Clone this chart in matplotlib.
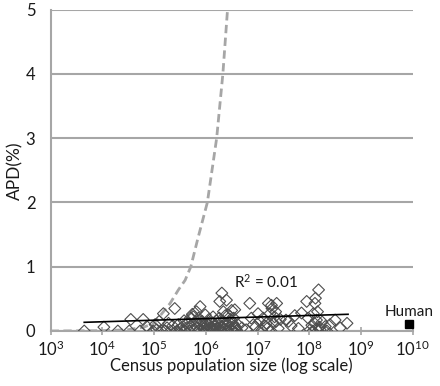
import numpy as np
import matplotlib.pyplot as plt

plt.rcParams['font.family'] = ['Lato', 'DejaVu Sans']
plt.rcParams['mathtext.fontset'] = 'custom'
plt.rcParams['mathtext.rm'] = 'Lato'
plt.rcParams['mathtext.it'] = 'Lato:italic'

# species: census size (log10) and APD (%)
log_pop = [
    3.65, 4.03, 4.30, 4.52, 4.55, 4.73, 4.79, 4.86, 4.98, 5.02,
    5.05, 5.10, 5.15, 5.18, 5.21, 5.25, 5.28, 5.32, 5.36, 5.40, 5.44, 5.47, 5.50, 5.53, 5.56, 5.58,
    5.60, 5.63, 5.65, 5.68, 5.70, 5.72, 5.74, 5.76, 5.78, 5.80, 5.82, 5.84, 5.86, 5.88, 5.89, 5.91,
    5.93, 5.95, 5.97, 5.99,
    6.00, 6.02, 6.04, 6.06, 6.08, 6.10, 6.12, 6.14, 6.16, 6.18, 6.20, 6.22, 6.24, 6.26, 6.27, 6.29,
    6.31, 6.32, 6.34, 6.36, 6.38, 6.40, 6.42, 6.44, 6.46, 6.48, 6.50, 6.52, 6.53, 6.55, 6.56, 6.58,
    6.60, 6.62,
    6.70, 6.78, 6.85, 6.88, 6.92, 6.96, 7.01, 7.04, 7.08, 7.11, 7.14, 7.17, 7.21, 7.24, 7.27, 7.28,
    7.31, 7.33, 7.35, 7.37, 7.40, 7.44,
    7.55, 7.60, 7.65, 7.72, 7.79, 7.85, 7.95, 7.98, 8.02, 8.05, 8.08, 8.10, 8.11, 8.12, 8.14, 8.16,
    8.18, 8.20, 8.25, 8.31, 8.34, 8.40, 8.50, 8.60, 8.73,
    5.87, 5.96, 6.01, 6.07, 6.11, 6.15, 6.19, 6.23, 6.28, 6.33, 6.37, 6.41, 6.45, 6.49, 6.54, 6.57,
    7.20, 7.26, 7.36, 8.07, 8.13, 8.21,
]
apd = [
    0.00, 0.06, 0.00, 0.00, 0.18, 0.00, 0.18, 0.07, 0.00, 0.10,
    0.02, 0.15, 0.00, 0.27, 0.00, 0.05, 0.12, 0.00, 0.08, 0.35, 0.00, 0.10, 0.03, 0.00, 0.07, 0.16,
    0.00, 0.05, 0.12, 0.00, 0.20, 0.08, 0.26, 0.22, 0.02, 0.14, 0.30, 0.05, 0.20, 0.10, 0.38, 0.00,
    0.15, 0.12, 0.06, 0.25,
    0.02, 0.00, 0.10, 0.18, 0.05, 0.13, 0.00, 0.22, 0.08, 0.03, 0.16, 0.11, 0.00, 0.20, 0.46, 0.07,
    0.59, 0.14, 0.30, 0.02, 0.24, 0.48, 0.10, 0.25, 0.05, 0.18, 0.32, 0.12, 0.00, 0.08, 0.33, 0.03,
    0.01, 0.10,
    0.05, 0.02, 0.43, 0.20, 0.10, 0.06, 0.27, 0.15, 0.01, 0.20, 0.08, 0.12, 0.43, 0.27, 0.40, 0.35,
    0.12, 0.22, 0.30, 0.43, 0.04, 0.18,
    0.17, 0.15, 0.08, 0.24, 0.04, 0.28, 0.46, 0.20, 0.02, 0.09, 0.27, 0.12, 0.43, 0.51, 0.17, 0.30,
    0.64, 0.06, 0.14, 0.07, 0.00, 0.10, 0.17, 0.05, 0.12,
    0.00, 0.03, 0.12, 0.00, 0.06, 0.00, 0.09, 0.04, 0.00, 0.06, 0.11, 0.00, 0.14, 0.02, 0.20, 0.06,
    0.05, 0.00, 0.15, 0.00, 0.03, 0.02,
]

# neutral expectation curve
curve_log_pop = [3.0, 4.0, 4.5, 4.8, 5.0, 5.18, 5.31, 5.47, 5.60, 5.71, 5.85, 6.03, 6.21, 6.33, 6.42]
curve_apd = [0.0, 0.005, 0.02, 0.06, 0.12, 0.30, 0.43, 0.64, 0.79, 1.0, 1.45, 2.0, 3.0, 4.0, 5.0]

# regression line end points
fit_log_pop = [3.65, 8.75]
fit_apd = [0.135, 0.26]

human_log_pop = 9.92
human_apd = 0.11

pop = 10 ** np.array(log_pop)
txt = '#1a1a1a'

fig = plt.figure(figsize=(4.4, 3.86), dpi=100)
ax = fig.add_axes([0.115, 0.1425, 0.823, 0.8325])
ax.set_xscale('log')
ax.set_xlim(1e3, 1e10)
ax.set_ylim(0, 5)

ax.yaxis.grid(True, color='#a6a6a6', lw=1.5)
ax.set_axisbelow(True)
for s in ['top', 'right']:
    ax.spines[s].set_visible(False)
for s in ['left', 'bottom']:
    ax.spines[s].set_color('#a6a6a6')
    ax.spines[s].set_linewidth(1.5)

ax.plot(10 ** np.array(curve_log_pop), curve_apd, color='#a6a6a6', lw=2,
        dashes=(3, 1.6), zorder=2)
ax.scatter(pop, apd, marker='D', s=36, facecolors='none', edgecolors='#4d4d4d',
           linewidths=0.8, zorder=3)
ax.plot(10 ** np.array(fit_log_pop), fit_apd, color='black', lw=1.2, zorder=4)
ax.plot([10 ** human_log_pop], [human_apd], marker='s', color='black', ms=5.5,
        clip_on=False, zorder=5)
ax.text(10 ** 9.94, 0.29, 'Human', ha='center', va='center', fontsize=11, color=txt)
ax.text(10 ** 7.16, 0.76, 'R$^2$ = 0.01', ha='center', va='center', fontsize=11, color=txt)

ax.set_yticks([0, 1, 2, 3, 4, 5])
ax.tick_params(axis='y', length=0, pad=11, labelsize=12, labelcolor=txt)
ax.set_xticks([10 ** k for k in range(3, 11)])
ax.set_xticklabels(['$\\mathregular{10^{%d}}$' % k for k in range(3, 11)])
ax.minorticks_off()
ax.tick_params(axis='x', direction='inout', length=6, width=1.2, color='#a6a6a6',
               pad=3, labelsize=12, labelcolor=txt)

ax.set_xlabel('Census population size (log scale)', fontsize=12, color=txt, labelpad=-1)
ax.set_ylabel('APD(%)', fontsize=12.5, color=txt, labelpad=2)

fig.savefig('out.png', dpi=100)
